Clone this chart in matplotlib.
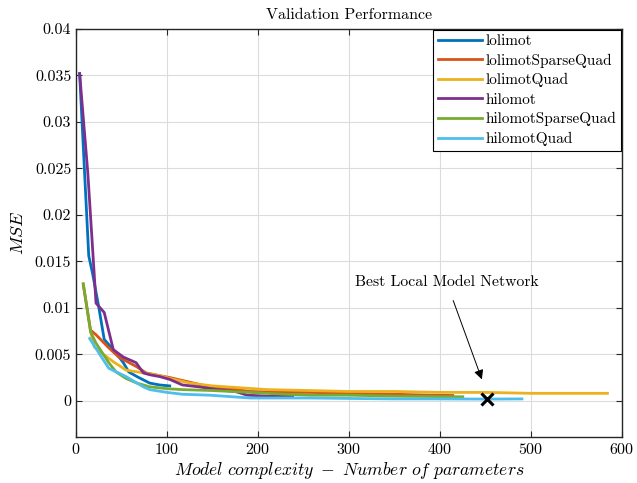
import numpy as np
import matplotlib
matplotlib.use('Agg')
import matplotlib.pyplot as plt
from matplotlib.ticker import FuncFormatter

# validation MSE vs. number of parameters for each training variant
lolimot_x = [4, 14, 18, 25, 31, 41, 52, 58, 67, 81, 92, 103]
lolimot_y = [0.0352, 0.0156, 0.0138, 0.0101, 0.0066, 0.0055, 0.0041, 0.0031,
             0.0026, 0.0019, 0.0017, 0.0016]

lolimotSparseQuad_x = [8, 16, 22, 36, 47, 66, 77, 92, 103, 125, 147, 170, 191,
                       230, 257, 300, 350, 390, 414]
lolimotSparseQuad_y = [0.0125, 0.0076, 0.0071, 0.0057, 0.0047, 0.0037, 0.0030,
                       0.0027, 0.0025, 0.0020, 0.0015, 0.0013, 0.0010, 0.0009,
                       0.0009, 0.0008, 0.0007, 0.0006, 0.00057]

lolimotQuad_x = [16, 20, 30, 41, 55, 74, 92, 103, 125, 150, 180, 210, 257, 300,
                 350, 400, 450, 500, 550, 584]
lolimotQuad_y = [0.0075, 0.0058, 0.0050, 0.0042, 0.0033, 0.0030, 0.0027, 0.0024,
                 0.0019, 0.0016, 0.0014, 0.0012, 0.0011, 0.0010, 0.0010, 0.0009,
                 0.0009, 0.0008, 0.0008, 0.0008]

hilomot_x = [4, 13, 19, 22, 31, 41, 52, 66, 74, 81, 92, 103, 117, 135, 155, 175,
             188, 210, 238]
hilomot_y = [0.0352, 0.0245, 0.0152, 0.0105, 0.0095, 0.0055, 0.0047, 0.0041,
             0.0030, 0.0028, 0.0026, 0.0023, 0.0017, 0.0015, 0.0012, 0.0010,
             0.0006, 0.0005, 0.0005]

hilomotSparseQuad_x = [8, 16, 22, 36, 44, 55, 67, 81, 100, 117, 150, 191, 230,
                       257, 300, 350, 400, 425]
hilomotSparseQuad_y = [0.0126, 0.0074, 0.0062, 0.0041, 0.0031, 0.0024, 0.0019,
                       0.0015, 0.0013, 0.0012, 0.0011, 0.0009, 0.0007, 0.0006,
                       0.0006, 0.0005, 0.00045, 0.00043]

hilomotQuad_x = [15, 30, 36, 55, 74, 81, 100, 117, 147, 191, 257, 300, 350, 400,
                 452, 490]
hilomotQuad_y = [0.0067, 0.0044, 0.0035, 0.0026, 0.0015, 0.0012, 0.0009, 0.0007,
                 0.0006, 0.0003, 0.0003, 0.00025, 0.0002, 0.0002, 0.00018, 0.0002]

best_x = 452
best_y = 0.00018

names = ['lolimot', 'lolimotSparseQuad', 'lolimotQuad',
         'hilomot', 'hilomotSparseQuad', 'hilomotQuad']
series = [(lolimot_x, lolimot_y),
          (lolimotSparseQuad_x, lolimotSparseQuad_y),
          (lolimotQuad_x, lolimotQuad_y),
          (hilomot_x, hilomot_y),
          (hilomotSparseQuad_x, hilomotSparseQuad_y),
          (hilomotQuad_x, hilomotQuad_y)]
colors = ['#0072BD', '#D95319', '#EDB120', '#7E2F8E', '#77AC30', '#4DBEEE']

plt.rcParams.update({
    'font.family': 'serif',
    'font.serif': ['cmr10', 'DejaVu Serif'],
    'mathtext.fontset': 'cm',
    'axes.formatter.use_mathtext': True,
    'axes.unicode_minus': False,
})

fig = plt.figure(figsize=(6.37, 4.83), dpi=100)
ax = fig.add_axes([0.1193, 0.0952, 0.8572, 0.8448])

for (xs, ys), name, c in zip(series, names, colors):
    ax.plot(xs, ys, color=c, lw=2, label=name)

ax.plot(best_x, best_y, 'x', color='k', ms=9, mew=2.2, zorder=5)
ax.annotate('Best Local Model Network', xy=(446, 0.0023), xytext=(407, 0.0128),
            ha='center', va='center', fontsize=11.3,
            arrowprops=dict(arrowstyle='-|>', color='k', lw=0.7,
                            mutation_scale=14, shrinkA=7, shrinkB=0))

ax.set_xlim(0, 600)
ax.set_ylim(-0.0039, 0.04)
ax.set_xticks(np.arange(0, 601, 100))
ax.set_yticks(np.arange(0, 0.0401, 0.005))
ax.yaxis.set_major_formatter(FuncFormatter(lambda v, p: '%g' % round(v, 4)))

ax.grid(True, color='#dcdcdc', lw=0.8)
ax.set_axisbelow(True)
ax.tick_params(direction='in', top=True, right=True, labelsize=11.5,
               length=4, width=0.8, color='#262626')
for s in ax.spines.values():
    s.set_color('#262626')
    s.set_linewidth(1)

ax.set_title('Validation Performance', fontsize=11.5, pad=7)
ax.set_xlabel(r'$Model\ complexity\ -\ Number\ of\ parameters$', fontsize=12.7,
              labelpad=2)
ax.set_ylabel(r'$MSE$', fontsize=13, labelpad=6)

leg = ax.legend(loc='upper right', fontsize=11, fancybox=False,
                edgecolor='k', framealpha=1, borderaxespad=0.05,
                handlelength=2.9, handletextpad=0.25, labelspacing=0.36,
                borderpad=0.3)
leg.get_frame().set_linewidth(0.8)

plt.savefig('out.png', dpi=100)
